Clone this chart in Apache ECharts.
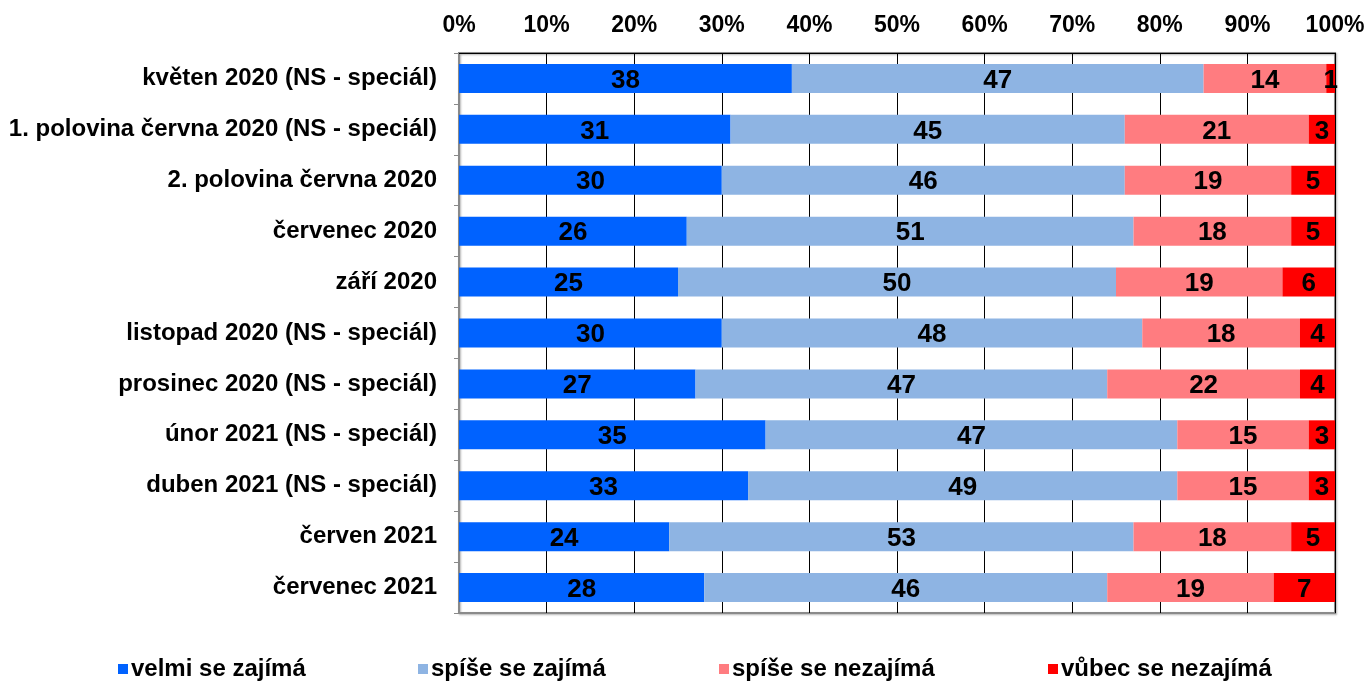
<!DOCTYPE html>
<html><head><meta charset="utf-8">
<script src="https://cdn.jsdelivr.net/npm/echarts@6/dist/echarts.min.js"></script>
<style>html,body{margin:0;padding:0;background:#fff}#c{width:1369px;height:681px}</style>
</head><body><div id="c"></div>
<script>
const categories = ["květen 2020 (NS - speciál)","1. polovina června 2020 (NS - speciál)","2. polovina června 2020","červenec 2020","září 2020","listopad 2020 (NS - speciál)","prosinec 2020 (NS - speciál)","únor 2021 (NS - speciál)","duben 2021 (NS - speciál)","červen 2021","červenec 2021"];
const seriesNames = ["velmi se zajímá","spíše se zajímá","spíše se nezajímá","vůbec se nezajímá"];
const velmi = [38,31,30,26,25,30,27,35,33,24,28];
const spiseZaj = [47,45,46,51,50,48,47,47,49,53,46];
const spiseNezaj = [14,21,19,18,19,18,22,15,15,18,19];
const vubec = [1,3,5,5,6,4,4,3,3,5,7];
const colors = ["#0062FF","#8EB4E3","#FF7C80","#FF0000"];
const font = "'Liberation Sans', Arial, sans-serif";
const values = [velmi, spiseZaj, spiseNezaj, vubec];
const legendLefts = [113, 413, 714, 1043];
const chart = echarts.init(document.getElementById('c'));
chart.setOption({
  animation:false,
  grid:{left:459,right:34,top:53,bottom:68,show:true,borderColor:'#8a8a8a',borderWidth:2,shadowColor:'rgba(0,0,0,0.3)',shadowBlur:2,shadowOffsetX:1,shadowOffsetY:1},
  legend: seriesNames.map((n,i)=>({data:[n],left:legendLefts[i],top:652,icon:'rect',itemWidth:10,itemHeight:10,itemGap:0,
    textStyle:{fontFamily:font,fontWeight:'bold',fontSize:24,color:'#000',padding:[0,0,0,-2]}})),
  xAxis:{type:'value',position:'top',min:0,max:100,interval:10,
    axisLine:{show:true,lineStyle:{color:'#000',width:1}},axisTick:{show:false},
    splitLine:{show:true,lineStyle:{color:'#000',width:1}},
    axisLabel:{formatter:'{value}%',fontFamily:font,fontWeight:'bold',fontSize:23,color:'#000',margin:16}},
  yAxis:{type:'category',inverse:true,data:categories,
    axisLine:{show:true,lineStyle:{color:'#8a8a8a',width:2}},
    axisTick:{show:true,length:5,lineStyle:{color:'#8a8a8a'}},
    axisLabel:{fontFamily:font,fontWeight:'bold',fontSize:24,color:'#000',margin:22}},
  series: seriesNames.map((n,i)=>({name:n,type:'bar',stack:'a',data:values[i],barWidth:29,
    itemStyle:{color:colors[i]},
    label:{show:true,position:'inside',color:'#000',fontFamily:font,fontWeight:'bold',fontSize:26,offset:[0,2]}}))
});
</script></body></html>
